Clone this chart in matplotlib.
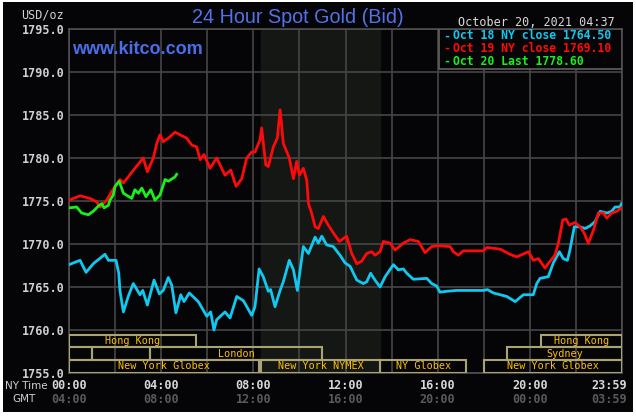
import matplotlib
matplotlib.use("Agg")
import matplotlib.pyplot as plt
import matplotlib.patches as mpatches

# --- data (hours since NY midnight, USD/oz) ---
oct18_hours = [0.0, 0.48, 0.74, 1.05, 1.56, 1.71, 2.04, 2.16, 2.21, 2.36, 2.57, 2.79, 3.08, 3.20,
               3.40, 3.69, 3.92, 4.09, 4.31, 4.46, 4.64, 4.85, 4.99, 5.22, 5.61, 5.98, 6.15, 6.29,
               6.41, 6.77, 6.99, 7.28, 7.57, 7.93, 8.07, 8.25, 8.43, 8.65, 8.75, 8.94, 9.16, 9.30,
               9.56, 9.74, 9.91, 10.17, 10.39, 10.68, 10.82, 10.97, 11.18, 11.47, 11.76, 11.98,
               12.20, 12.49, 12.77, 12.92, 13.09, 13.28, 13.50, 13.72, 14.08, 14.29, 14.51, 14.66,
               14.94, 15.53, 15.74, 15.96, 16.10, 16.39, 16.83, 17.98, 18.16, 18.42, 19.00, 19.36,
               19.72, 20.15, 20.30, 20.44, 20.80, 21.02, 21.28, 21.45, 21.63, 21.74, 21.93, 22.18,
               22.40, 22.61, 22.83, 23.05, 23.34, 23.55, 23.70, 23.91, 23.98]
oct18_price = [1767.6, 1768.1, 1766.7, 1767.7, 1768.8, 1768.1, 1768.1, 1766.6, 1764.6, 1762.1,
               1763.9, 1765.4, 1764.1, 1764.6, 1762.9, 1765.8, 1764.2, 1764.6, 1766.1, 1765.2,
               1762.0, 1764.1, 1763.3, 1764.3, 1763.3, 1761.6, 1762.1, 1760.0, 1761.2, 1762.1,
               1761.4, 1763.9, 1763.4, 1761.7, 1762.7, 1767.1, 1766.2, 1764.5, 1764.7, 1762.7,
               1764.6, 1765.6, 1768.1, 1767.0, 1764.6, 1769.7, 1768.9, 1770.8, 1770.1, 1770.9,
               1769.9, 1769.7, 1768.7, 1767.8, 1767.4, 1765.8, 1765.4, 1765.6, 1766.6, 1765.8,
               1765.0, 1766.2, 1767.6, 1767.0, 1767.1, 1766.6, 1765.9, 1766.0, 1765.4, 1765.1,
               1764.4, 1764.5, 1764.6, 1764.6, 1764.7, 1764.3, 1763.9, 1763.3, 1764.1, 1764.1,
               1765.4, 1766.0, 1766.2, 1767.8, 1769.1, 1768.3, 1768.1, 1769.3, 1772.0, 1772.0,
               1771.8, 1772.1, 1772.6, 1773.8, 1773.6, 1773.8, 1774.3, 1774.3, 1774.7]

oct19_hours = [0.0, 0.48, 0.91, 1.20, 1.35, 1.64, 1.85, 2.21, 2.36, 2.57, 2.86, 3.22, 3.40, 3.66,
               3.81, 3.95, 4.09, 4.31, 4.60, 4.82, 5.11, 5.33, 5.54, 5.69, 5.86, 6.12, 6.41, 6.77,
               7.02, 7.25, 7.50, 7.71, 7.93, 8.07, 8.29, 8.36, 8.54, 8.65, 8.87, 9.04, 9.16, 9.23,
               9.30, 9.56, 9.74, 9.88, 10.00, 10.17, 10.32, 10.39, 10.53, 10.68, 10.82, 11.04,
               11.25, 11.47, 11.73, 12.05, 12.27, 12.49, 12.70, 12.92, 13.14, 13.28, 13.50, 13.64,
               13.93, 14.15, 14.51, 14.80, 15.16, 15.45, 15.74, 16.03, 16.54, 16.68, 16.90, 17.11,
               17.98, 18.13, 18.71, 19.14, 19.43, 19.94, 20.15, 20.37, 20.66, 20.88, 21.09, 21.24,
               21.43, 21.57, 21.71, 21.96, 22.18, 22.35, 22.54, 22.76, 22.97, 23.19, 23.34, 23.55,
               23.77, 23.98]
oct19_price = [1775.1, 1775.6, 1775.3, 1774.9, 1774.3, 1775.1, 1776.1, 1777.5, 1777.1, 1777.8,
               1778.8, 1780.0, 1778.4, 1780.0, 1781.7, 1782.7, 1781.9, 1782.3, 1783.0, 1782.7,
               1782.3, 1781.5, 1781.3, 1779.8, 1780.4, 1778.8, 1780.0, 1778.0, 1778.6, 1776.7,
               1777.6, 1780.0, 1780.7, 1780.7, 1782.1, 1783.5, 1779.2, 1779.0, 1781.3, 1782.3,
               1785.6, 1783.8, 1781.7, 1780.0, 1777.6, 1779.6, 1778.0, 1778.8, 1777.4, 1774.7,
               1773.6, 1772.0, 1771.8, 1773.2, 1772.2, 1771.3, 1770.3, 1770.9, 1768.9, 1767.7,
               1768.0, 1768.9, 1769.1, 1768.7, 1769.1, 1770.3, 1770.1, 1769.3, 1770.1, 1770.5,
               1770.3, 1769.0, 1769.7, 1769.8, 1769.7, 1769.1, 1768.7, 1769.2, 1769.2, 1769.6,
               1769.4, 1768.8, 1768.5, 1769.1, 1768.1, 1768.3, 1767.2, 1768.0, 1768.7, 1770.1,
               1772.8, 1772.9, 1772.2, 1772.5, 1772.0, 1771.3, 1770.1, 1771.6, 1773.6, 1773.6,
               1773.0, 1773.6, 1773.8, 1774.2]

oct20_hours = [0.0, 0.33, 0.55, 0.84, 1.05, 1.27, 1.42, 1.52, 1.71, 1.78, 1.92, 2.00, 2.18, 2.36,
               2.72, 2.86, 3.01, 3.16, 3.34, 3.55, 3.73, 3.95, 4.17, 4.31, 4.60, 4.67]
oct20_price = [1774.2, 1774.3, 1773.6, 1773.4, 1773.8, 1774.4, 1774.7, 1774.2, 1774.5, 1775.1,
               1775.7, 1776.7, 1777.3, 1775.9, 1775.3, 1776.3, 1775.9, 1776.5, 1775.5, 1776.3,
               1775.1, 1775.7, 1777.5, 1777.3, 1777.8, 1778.1]

legend_labels = ["Oct 18 NY close 1764.50", "Oct 19 NY close 1769.10", "Oct 20 Last 1778.60"]
ny_ticks = ["00:00", "04:00", "08:00", "12:00", "16:00", "20:00", "23:59"]
gmt_ticks = ["04:00", "08:00", "12:00", "16:00", "20:00", "00:00", "03:59"]
tick_hours = [0, 4, 8, 12, 16, 20, 24]

# market sessions: (row, start hour, end hour, label)
sessions = [
    (2, 0.0, 5.5, "Hong Kong"), (2, 20.5, 24.0, "Hong Kong"),
    (1, 0.0, 1.0, ""), (1, 1.0, 3.5, ""), (1, 3.5, 11.0, "London"), (1, 19.0, 24.0, "Sydney"),
    (0, 0.0, 8.25, "New York Globex"), (0, 8.33, 13.5, "New York NYMEX"),
    (0, 13.5, 17.25, "NY Globex"), (0, 18.0, 24.0, "New York Globex"),
]
nymex_open, nymex_close = 8.33, 13.5

mono = "DejaVu Sans Mono"
bg = "#050508"
fig = plt.figure(figsize=(6.36, 4.16), dpi=100, facecolor="white")
fig.patches.append(mpatches.Rectangle((0.0047, 0.0096), 0.9906, 0.9856, transform=fig.transFigure,
                                      facecolor=bg, edgecolor="none", zorder=-10))

ax = fig.add_axes([0.1085, 0.1034, 0.8695, 0.8269])
ax.set_facecolor(bg)
ax.set_xlim(0, 24)
ax.set_ylim(1755, 1795)
ax.axvspan(nymex_open, nymex_close, color="#141714", zorder=0)

ax.set_xticks(range(0, 25, 2))
ax.set_xticklabels([])
ax.set_yticks(range(1755, 1796, 5))
ax.set_yticklabels([f"{v:.1f}" for v in range(1755, 1796, 5)], fontfamily=mono,
                   fontweight="bold", fontsize=8.5, color="#d0d0d0")
ax.tick_params(length=0, pad=3.5)
ax.grid(color="#454545", linewidth=1.2)
ax.set_axisbelow(True)
for s in ax.spines.values():
    s.set_color("#505050")
    s.set_linewidth(1.2)

ax.plot(oct18_hours, oct18_price, color="#10c8f0", linewidth=2.0, zorder=3)
ax.plot(oct19_hours, oct19_price, color="#ff0a0a", linewidth=2.0, zorder=4)
ax.plot(oct20_hours, oct20_price, color="#18f018", linewidth=2.0, zorder=5)

# session boxes along the bottom
row_h = 1.45
for row, start, end, label in sessions:
    y0 = 1755.05 + row * 1.47
    ax.add_patch(mpatches.Rectangle((start, y0), end - start, row_h, facecolor="none",
                                    edgecolor="#aaa472", linewidth=1.5, zorder=6))
    if label:
        ax.text((start + end) / 2, y0 + row_h / 2, label, ha="center", va="center",
                fontfamily=mono, fontsize=7.3, color="#ffc000", zorder=7)

# legend box
ax.add_patch(mpatches.Rectangle((0.669, 0.884), 0.331, 0.116, transform=ax.transAxes,
                                facecolor=bg, edgecolor="#606060", linewidth=1.2, zorder=8))
legend_colors = ["#10c8f0", "#ff0a0a", "#18f018"]
for i, (lab, c) in enumerate(zip(legend_labels, legend_colors)):
    y = 0.980 - i * 0.037
    ax.text(0.683, y, "-", transform=ax.transAxes, ha="center", va="center", fontfamily=mono,
            fontweight="bold", fontsize=8.3, color=c, zorder=9)
    ax.text(0.695, y, lab, transform=ax.transAxes, ha="left", va="center", fontfamily=mono,
            fontweight="bold", fontsize=8.3, color=c, zorder=9)

# x labels, two rows
xt = ax.get_xaxis_transform()
for h, ny, gmt in zip(tick_hours, ny_ticks, gmt_ticks):
    ha = "right" if h == 24 else "center"
    x = h + 0.22 if h == 24 else h
    ax.text(x, -0.035, ny, transform=xt, ha=ha, va="center", fontfamily=mono,
            fontweight="bold", fontsize=8.5, color="#d8d8d8", clip_on=False)
    ax.text(x, -0.076, gmt, transform=xt, ha=ha, va="center", fontfamily=mono,
            fontweight="bold", fontsize=8.5, color="#5a5a5a", clip_on=False)

fig.text(0.008, 0.072, "NY Time", ha="left", va="center", fontfamily="DejaVu Sans",
         fontsize=7.5, color="#d0d0d0")
fig.text(0.020, 0.041, "GMT", ha="left", va="center", fontfamily="DejaVu Sans", fontsize=7.5,
         color="#d0d0d0")
fig.text(0.1006, 0.964, "USD/oz", ha="right", va="center", fontfamily=mono, fontsize=8.5,
         color="#d0d0d0")
fig.text(0.468, 0.959, "24 Hour Spot Gold (Bid)", ha="center", va="center",
         fontfamily="Liberation Sans", fontsize=14.2, color="#5273e8")
fig.text(0.113, 0.880, "www.kitco.com", ha="left", va="center", fontfamily="Liberation Sans",
         fontweight="bold", fontsize=13, color="#4a6ee8")
fig.text(0.720, 0.947, "October 20, 2021 04:37", ha="left", va="center", fontfamily=mono,
         fontsize=8.5, color="#d8d8d8")

plt.savefig("out.png", dpi=100, facecolor="white")
